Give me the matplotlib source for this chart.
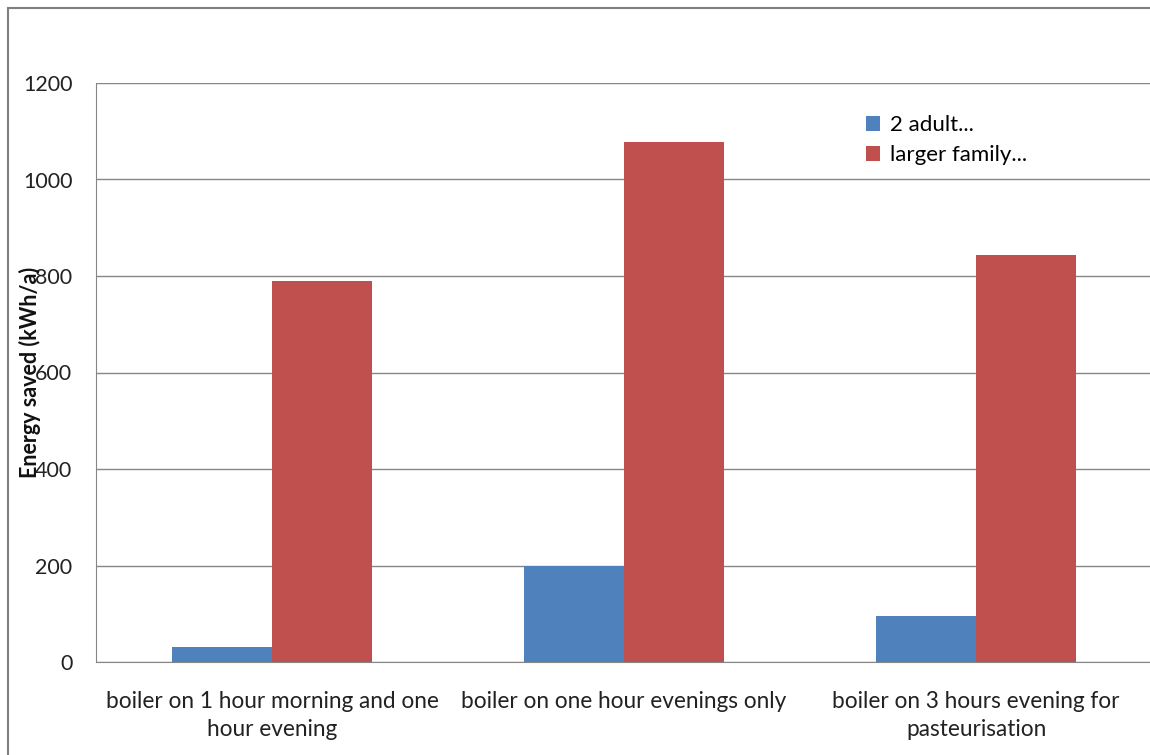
import matplotlib.pyplot as plt
from matplotlib.patches import Rectangle
import numpy as np

plt.rcParams['font.family'] = ['Lato', 'DejaVu Sans']

# Energy saved per boiler schedule, for the two household types
categories = ['boiler on 1 hour morning and one\nhour evening',
              'boiler on one hour evenings only',
              'boiler on 3 hours evening for\npasteurisation']
series_names = ['2 adult...', 'larger family...']
two_adult = [32, 200, 96]
larger_family = [790, 1078, 843]
yticks = [0, 200, 400, 600, 800, 1000, 1200]

W, H = 1150, 755
fig = plt.figure(figsize=(W / 100, H / 100), dpi=100)

# outer chart frame (cut off at right and bottom)
fig.patches.append(Rectangle((8 / W, -0.1), 2, 1 - 8 / H + 0.1, transform=fig.transFigure,
                             fill=False, edgecolor='#7f7f7f', linewidth=1.5))

ax = fig.add_axes([96 / W, (H - 662) / H, 1056 / W, 579 / H])

x = np.arange(len(categories))
width = 0.284
ax.bar(x - width / 2, two_adult, width, color='#4F81BD', label=series_names[0], zorder=3)
ax.bar(x + width / 2, larger_family, width, color='#C0504D', label=series_names[1], zorder=3)

ax.set_xlim(-0.5, len(categories) - 0.5)
ax.set_ylim(0, 1200)
ax.set_yticks(yticks)
ax.set_yticklabels([str(v) for v in yticks], fontsize=15.5, color='#222222')
ax.yaxis.grid(True, color='#868686', linewidth=1, zorder=0)
ax.tick_params(axis='both', length=0)
ax.tick_params(axis='y', pad=17)

ax.set_xticks(x)
ax.set_xticklabels(categories, fontsize=16.3, color='#222222', linespacing=1.4)
ax.tick_params(axis='x', pad=21)

for side in ['left', 'bottom']:
    ax.spines[side].set_color('#868686')
ax.spines['top'].set_visible(False)
ax.spines['right'].set_visible(False)

fig.text(30 / W, 1 - 372 / H, 'Energy saved (kWh/a)', rotation=90, ha='center', va='center',
         fontsize=15.5, fontweight='bold', color='#111111')

ax.legend(loc='upper left', bbox_to_anchor=(750 / 1056, 1 - 12 / 579), frameon=False,
          fontsize=16, handlelength=0.65, handleheight=0.65, handletextpad=0.45, labelspacing=0.45)

fig.savefig('out.png', dpi=100)
